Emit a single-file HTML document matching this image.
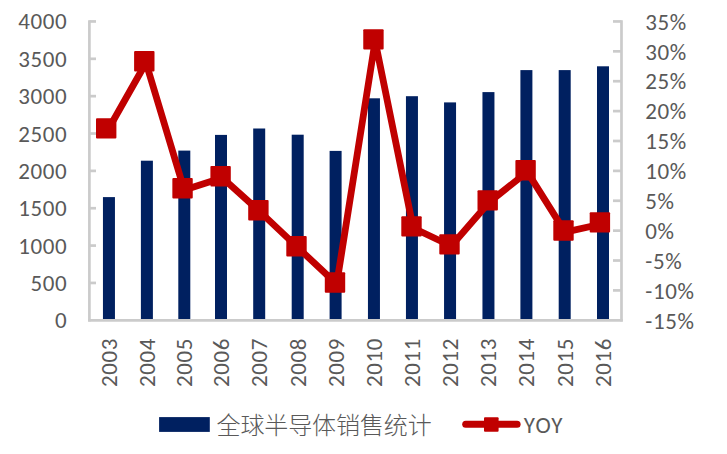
<!DOCTYPE html><html><head><meta charset="utf-8"><style>html,body{margin:0;padding:0;background:#fff;}svg{display:block;}text{font-family:"Carlito", "Liberation Sans", "Noto Sans CJK SC", sans-serif;fill:#595959;}</style></head><body>
<svg width="727" height="454" viewBox="0 0 727 454">
<rect width="727" height="454" fill="#fff"/>
<rect x="102.95" y="197.10" width="12.00" height="123.20" fill="#002060"/>
<rect x="140.90" y="160.70" width="12.00" height="159.60" fill="#002060"/>
<rect x="178.30" y="150.60" width="12.00" height="169.70" fill="#002060"/>
<rect x="215.00" y="134.90" width="12.00" height="185.40" fill="#002060"/>
<rect x="253.20" y="128.50" width="12.00" height="191.80" fill="#002060"/>
<rect x="291.70" y="134.70" width="12.00" height="185.60" fill="#002060"/>
<rect x="329.60" y="150.90" width="12.00" height="169.40" fill="#002060"/>
<rect x="367.95" y="98.30" width="12.00" height="222.00" fill="#002060"/>
<rect x="405.95" y="96.20" width="12.00" height="224.10" fill="#002060"/>
<rect x="444.05" y="102.40" width="12.00" height="217.90" fill="#002060"/>
<rect x="482.45" y="92.10" width="12.00" height="228.20" fill="#002060"/>
<rect x="520.40" y="70.10" width="12.00" height="250.20" fill="#002060"/>
<rect x="558.70" y="70.10" width="12.00" height="250.20" fill="#002060"/>
<rect x="597.00" y="66.30" width="12.00" height="254.00" fill="#002060"/>
<g stroke="#CBCBCB" stroke-width="2.7" fill="none">
<line x1="89.40" y1="20.20" x2="89.40" y2="321.55"/>
<line x1="621.50" y1="20.20" x2="621.50" y2="321.55"/>
<line x1="88.15" y1="320.30" x2="622.75" y2="320.30"/>
<line x1="89.40" y1="21.45" x2="96.00" y2="21.45"/>
<line x1="89.40" y1="58.81" x2="96.00" y2="58.81"/>
<line x1="89.40" y1="96.16" x2="96.00" y2="96.16"/>
<line x1="89.40" y1="133.52" x2="96.00" y2="133.52"/>
<line x1="89.40" y1="170.88" x2="96.00" y2="170.88"/>
<line x1="89.40" y1="208.23" x2="96.00" y2="208.23"/>
<line x1="89.40" y1="245.59" x2="96.00" y2="245.59"/>
<line x1="89.40" y1="282.94" x2="96.00" y2="282.94"/>
<line x1="613.00" y1="21.45" x2="621.50" y2="21.45"/>
<line x1="613.00" y1="51.34" x2="621.50" y2="51.34"/>
<line x1="613.00" y1="81.22" x2="621.50" y2="81.22"/>
<line x1="613.00" y1="111.11" x2="621.50" y2="111.11"/>
<line x1="613.00" y1="140.99" x2="621.50" y2="140.99"/>
<line x1="613.00" y1="170.88" x2="621.50" y2="170.88"/>
<line x1="613.00" y1="200.76" x2="621.50" y2="200.76"/>
<line x1="613.00" y1="230.65" x2="621.50" y2="230.65"/>
<line x1="613.00" y1="260.53" x2="621.50" y2="260.53"/>
<line x1="613.00" y1="290.42" x2="621.50" y2="290.42"/>
</g>
<polyline points="107.90,130.00 146.00,62.80 184.25,189.90 222.30,177.80 260.10,211.85 298.20,247.90 336.70,284.05 375.15,41.00 413.20,228.00 451.20,246.00 489.40,202.00 527.30,171.90 565.20,232.10 601.60,224.00" fill="none" stroke="#C00000" stroke-width="6.80" stroke-linejoin="round"/>
<rect x="96.00" y="118.20" width="20.4" height="20.4" rx="1.0" fill="#C00000"/>
<rect x="134.10" y="51.00" width="20.4" height="20.4" rx="1.0" fill="#C00000"/>
<rect x="172.35" y="178.10" width="20.4" height="20.4" rx="1.0" fill="#C00000"/>
<rect x="210.40" y="166.00" width="20.4" height="20.4" rx="1.0" fill="#C00000"/>
<rect x="248.20" y="200.05" width="20.4" height="20.4" rx="1.0" fill="#C00000"/>
<rect x="286.30" y="236.10" width="20.4" height="20.4" rx="1.0" fill="#C00000"/>
<rect x="324.80" y="272.25" width="20.4" height="20.4" rx="1.0" fill="#C00000"/>
<rect x="363.25" y="29.20" width="20.4" height="20.4" rx="1.0" fill="#C00000"/>
<rect x="401.30" y="216.20" width="20.4" height="20.4" rx="1.0" fill="#C00000"/>
<rect x="439.30" y="234.20" width="20.4" height="20.4" rx="1.0" fill="#C00000"/>
<rect x="477.50" y="190.20" width="20.4" height="20.4" rx="1.0" fill="#C00000"/>
<rect x="515.40" y="160.10" width="20.4" height="20.4" rx="1.0" fill="#C00000"/>
<rect x="553.30" y="220.30" width="20.4" height="20.4" rx="1.0" fill="#C00000"/>
<rect x="589.70" y="212.20" width="20.4" height="20.4" rx="1.0" fill="#C00000"/>
<g font-size="23" letter-spacing="0.6" text-anchor="end">
<text x="67.2" y="29.45">4000</text>
<text x="67.2" y="66.81">3500</text>
<text x="67.2" y="104.16">3000</text>
<text x="67.2" y="141.52">2500</text>
<text x="67.2" y="178.88">2000</text>
<text x="67.2" y="216.23">1500</text>
<text x="67.2" y="253.59">1000</text>
<text x="67.2" y="290.94">500</text>
<text x="67.2" y="328.30">0</text>
</g>
<g font-size="23" letter-spacing="0.6">
<text x="645.3" y="29.65">35%</text>
<text x="645.3" y="59.53">30%</text>
<text x="645.3" y="89.42">25%</text>
<text x="645.3" y="119.31">20%</text>
<text x="645.3" y="149.19">15%</text>
<text x="645.3" y="179.07">10%</text>
<text x="645.3" y="208.96">5%</text>
<text x="645.3" y="238.84">0%</text>
<text x="645.3" y="268.73">-5%</text>
<text x="645.3" y="298.62">-10%</text>
<text x="645.3" y="328.50">-15%</text>
</g>
<g font-size="23" letter-spacing="0.6" text-anchor="end">
<text transform="translate(116.85,338) rotate(-90)">2003</text>
<text transform="translate(154.80,338) rotate(-90)">2004</text>
<text transform="translate(192.20,338) rotate(-90)">2005</text>
<text transform="translate(228.90,338) rotate(-90)">2006</text>
<text transform="translate(267.10,338) rotate(-90)">2007</text>
<text transform="translate(305.60,338) rotate(-90)">2008</text>
<text transform="translate(343.50,338) rotate(-90)">2009</text>
<text transform="translate(381.85,338) rotate(-90)">2010</text>
<text transform="translate(419.85,338) rotate(-90)">2011</text>
<text transform="translate(457.95,338) rotate(-90)">2012</text>
<text transform="translate(496.35,338) rotate(-90)">2013</text>
<text transform="translate(534.30,338) rotate(-90)">2014</text>
<text transform="translate(572.60,338) rotate(-90)">2015</text>
<text transform="translate(610.90,338) rotate(-90)">2016</text>
</g>
<rect x="159.1" y="417.1" width="50.7" height="14.8" fill="#002060"/>
<text x="216.5" y="433.5" font-size="24" letter-spacing="-0.1" font-weight="300" style="font-family:"Liberation Sans", "Noto Sans CJK SC", sans-serif">全球半导体销售统计</text>
<line x1="465.7" y1="424.3" x2="517.1" y2="424.3" stroke="#C00000" stroke-width="7" stroke-linecap="round"/>
<rect x="484.0" y="417.2" width="14.6" height="14.6" rx="1" fill="#C00000"/>
<text x="523.8" y="432.7" font-size="23" letter-spacing="1.2">YOY</text>
</svg></body></html>
